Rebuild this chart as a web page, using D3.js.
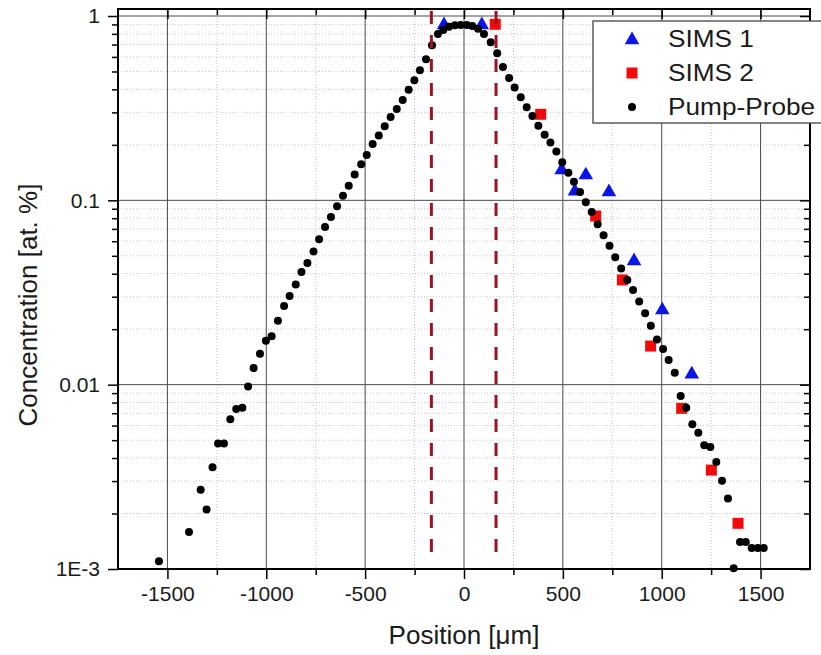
<!DOCTYPE html>
<html>
<head>
<meta charset="utf-8">
<script src="https://cdn.jsdelivr.net/npm/d3@7"></script>
<style>
  html, body { margin: 0; padding: 0; background: #fff; }
  svg { display: block; font-family: "Liberation Sans", Arial, sans-serif; }
</style>
</head>
<body>
<div id="grafico"></div>
<script>
// Pump-Probe
const ppX = [-1543, -1391, -1332, -1302, -1272, -1244, -1214, -1182, -1152, -1121, -1092, -1064, -1032, -1002, -973, -941, -910, -882, -851, -822, -792, -761, -733, -703, -673, -642, -612, -583, -553, -520, -492, -462, -431, -401, -371, -340, -310, -280, -251, -223, -192, -162, -132, -105, -76, -46, -17, 14, 42, 71, 101, 135, 168, 197, 228, 256, 287, 317, 346, 376, 408, 437, 467, 497, 528, 556, 587, 616, 646, 676, 706, 736, 765, 795, 826, 855, 886, 916, 945, 976, 1007, 1035, 1066, 1096, 1124, 1155, 1185, 1215, 1246, 1276, 1305, 1335, 1364, 1396, 1425, 1455, 1486, 1516];
const ppY = [0.00110, 0.00159, 0.00269, 0.00210, 0.00357, 0.00480, 0.00480, 0.00649, 0.00738, 0.00750, 0.00977, 0.0123, 0.0147, 0.0173, 0.0183, 0.0222, 0.0267, 0.0303, 0.0349, 0.0409, 0.0457, 0.0528, 0.0615, 0.0717, 0.0812, 0.0928, 0.106, 0.120, 0.138, 0.157, 0.176, 0.202, 0.225, 0.252, 0.283, 0.313, 0.350, 0.398, 0.448, 0.508, 0.582, 0.694, 0.799, 0.840, 0.875, 0.890, 0.894, 0.894, 0.883, 0.854, 0.799, 0.720, 0.628, 0.529, 0.461, 0.409, 0.362, 0.320, 0.287, 0.254, 0.227, 0.206, 0.184, 0.161, 0.141, 0.126, 0.111, 0.0976, 0.0865, 0.0741, 0.0647, 0.0567, 0.0491, 0.0427, 0.0370, 0.0326, 0.0283, 0.0244, 0.0209, 0.0176, 0.0156, 0.0136, 0.0116, 0.00868, 0.00750, 0.00610, 0.00549, 0.00469, 0.00459, 0.00381, 0.00301, 0.00241, 0.00101, 0.00140, 0.00140, 0.00130, 0.00130, 0.00130];

// SIMS 1 (triangulos)
const sims1X = [-101, 90, 494, 561, 616, 733, 860, 1003, 1152];
const sims1Y = [0.894, 0.894, 0.146, 0.112, 0.137, 0.111, 0.0469, 0.0254, 0.0114];

// SIMS 2 (cuadrados)
const sims2X = [158, 388, 666, 801, 944, 1101, 1251, 1386];
const sims2Y = [0.902, 0.293, 0.0822, 0.0370, 0.0162, 0.00744, 0.00344, 0.00177];

// lineas verticales discontinuas
const limites = [-165, 162];

const xTicks = [-1500, -1000, -500, 0, 500, 1000, 1500];
const xMinor = [-1250, -750, -250, 250, 750, 1250];
const yTicks = [0.001, 0.01, 0.1, 1];
const yTickLabels = ["1E-3", "0.01", "0.1", "1"];

const series = ["SIMS 1", "SIMS 2", "Pump-Probe"];

const width = 821;
const height = 655;
const margin = { top: 9, right: 11, bottom: 86, left: 118 };
const innerW = width - margin.left - margin.right;
const innerH = height - margin.top - margin.bottom;

const x = d3.scaleLinear().domain([-1750, 1750]).range([0, innerW]);
const y = d3.scaleLog().domain([0.001, 1.0914]).range([innerH, 0]);

const triSize = 92;
const dotR = 4;

// minor ticks of the log axis: 2..9 in every decade
const yMinor = [];
yTicks.slice(0, -1).forEach((d) => {
  for (let k = 2; k <= 9; k++) yMinor.push(d * k);
});

const svg = d3
  .select("#grafico")
  .append("svg")
  .attr("width", width)
  .attr("height", height);

const g = svg.append("g").attr("transform", `translate(${margin.left},${margin.top})`);

// grid
const grid = g.append("g");
grid.selectAll(".minor-x")
  .data(xMinor)
  .enter()
  .append("line")
  .attr("x1", (d) => x(d)).attr("x2", (d) => x(d))
  .attr("y1", 0).attr("y2", innerH)
  .attr("stroke", "#c8c8c8").attr("stroke-width", 1).attr("stroke-dasharray", "1,2");

grid.selectAll(".minor-y")
  .data(yMinor)
  .enter()
  .append("line")
  .attr("x1", 0).attr("x2", innerW)
  .attr("y1", (d) => y(d)).attr("y2", (d) => y(d))
  .attr("stroke", "#c8c8c8").attr("stroke-width", 1).attr("stroke-dasharray", "1,2");

grid.selectAll(".major-x")
  .data(xTicks)
  .enter()
  .append("line")
  .attr("x1", (d) => x(d)).attr("x2", (d) => x(d))
  .attr("y1", 0).attr("y2", innerH)
  .attr("stroke", "#4a4a4a").attr("stroke-width", 1);

grid.selectAll(".major-y")
  .data(yTicks)
  .enter()
  .append("line")
  .attr("x1", 0).attr("x2", innerW)
  .attr("y1", (d) => y(d)).attr("y2", (d) => y(d))
  .attr("stroke", "#4a4a4a").attr("stroke-width", 1);

// data
g.selectAll(".sims1")
  .data(sims1X.map((d, i) => [d, sims1Y[i]]))
  .enter()
  .append("path")
  .attr("d", d3.symbol().type(d3.symbolTriangle).size(triSize))
  .attr("transform", (d) => `translate(${x(d[0])},${y(d[1])})`)
  .attr("fill", "#0a14e6");

g.selectAll(".sims2")
  .data(sims2X.map((d, i) => [d, sims2Y[i]]))
  .enter()
  .append("rect")
  .attr("x", (d) => x(d[0]) - 5.5)
  .attr("y", (d) => y(d[1]) - 5.5)
  .attr("width", 11)
  .attr("height", 11)
  .attr("fill", "#f00a0a");

g.selectAll(".pp")
  .data(ppX.map((d, i) => [d, ppY[i]]))
  .enter()
  .append("circle")
  .attr("cx", (d) => x(d[0]))
  .attr("cy", (d) => y(d[1]))
  .attr("r", dotR)
  .attr("fill", "#000");

g.selectAll(".limite")
  .data(limites)
  .enter()
  .append("line")
  .attr("x1", (d) => x(d)).attr("x2", (d) => x(d))
  .attr("y1", 2).attr("y2", innerH - 6)
  .attr("stroke", "#9b1420")
  .attr("stroke-width", 3)
  .attr("stroke-dasharray", "13,11");

// axes
function estiloEje(sel) {
  sel.select(".domain").remove();
  sel.selectAll("line").attr("stroke", "#000").attr("stroke-width", 1.5);
  sel.selectAll("text").attr("fill", "#1a1a1a").style("font-size", "21px");
}

g.append("g")
  .attr("transform", `translate(0,${innerH})`)
  .call(d3.axisBottom(x).tickValues(xTicks).tickSize(10).tickPadding(7).tickFormat((d) => String(d)))
  .call(estiloEje);
g.append("g")
  .attr("transform", `translate(0,${innerH})`)
  .call(d3.axisBottom(x).tickValues(xMinor).tickSize(6).tickFormat(""))
  .call(estiloEje);

g.append("g")
  .call(d3.axisTop(x).tickValues(xTicks).tickSize(-10).tickFormat(""))
  .call(estiloEje);
g.append("g")
  .call(d3.axisTop(x).tickValues(xMinor).tickSize(-6).tickFormat(""))
  .call(estiloEje);

g.append("g")
  .call(d3.axisLeft(y).tickValues(yTicks).tickSize(10).tickPadding(8).tickFormat((d, i) => yTickLabels[i]))
  .call(estiloEje);
g.append("g")
  .call(d3.axisLeft(y).tickValues(yMinor).tickSize(6).tickFormat(""))
  .call(estiloEje);

g.append("g")
  .attr("transform", `translate(${innerW},0)`)
  .call(d3.axisRight(y).tickValues(yTicks).tickSize(-10).tickFormat(""))
  .call(estiloEje);
g.append("g")
  .attr("transform", `translate(${innerW},0)`)
  .call(d3.axisRight(y).tickValues(yMinor).tickSize(-6).tickFormat(""))
  .call(estiloEje);

g.append("rect")
  .attr("width", innerW)
  .attr("height", innerH)
  .attr("fill", "none")
  .attr("stroke", "#000")
  .attr("stroke-width", 2);

// axis titles
svg.append("text")
  .attr("x", margin.left + x(0))
  .attr("y", 644)
  .attr("text-anchor", "middle")
  .style("font-size", "26px")
  .attr("fill", "#1a1a1a")
  .text("Position [\u03bcm]");

svg.append("text")
  .attr("transform", `translate(37,${margin.top + innerH / 2 + 16}) rotate(-90)`)
  .attr("text-anchor", "middle")
  .style("font-size", "26px")
  .attr("fill", "#1a1a1a")
  .text("Concentration [at. %]");

// legend
const leyenda = svg.append("g").attr("transform", "translate(593,21)");
leyenda.append("rect")
  .attr("width", 240)
  .attr("height", 102)
  .attr("fill", "#fff")
  .attr("stroke", "#444")
  .attr("stroke-width", 1.3);

const filas = leyenda.selectAll(".fila")
  .data(series)
  .enter()
  .append("g")
  .attr("transform", (d, i) => `translate(0,${18 + i * 34})`);

filas.each(function (d, i) {
  const fila = d3.select(this);
  if (i === 0) {
    fila.append("path")
      .attr("d", d3.symbol().type(d3.symbolTriangle).size(triSize))
      .attr("transform", "translate(39,1)")
      .attr("fill", "#0a14e6");
  } else if (i === 1) {
    fila.append("rect")
      .attr("x", 33.5).attr("y", -5.5).attr("width", 11).attr("height", 11)
      .attr("fill", "#f00a0a");
  } else {
    fila.append("circle").attr("cx", 39).attr("cy", 0).attr("r", dotR).attr("fill", "#000");
  }
  fila.append("text")
    .attr("transform", "translate(75,8) scale(1.14,1)")
    .style("font-size", "23px")
    .attr("fill", "#1a1a1a")
    .text(d);
});
</script>
</body>
</html>
